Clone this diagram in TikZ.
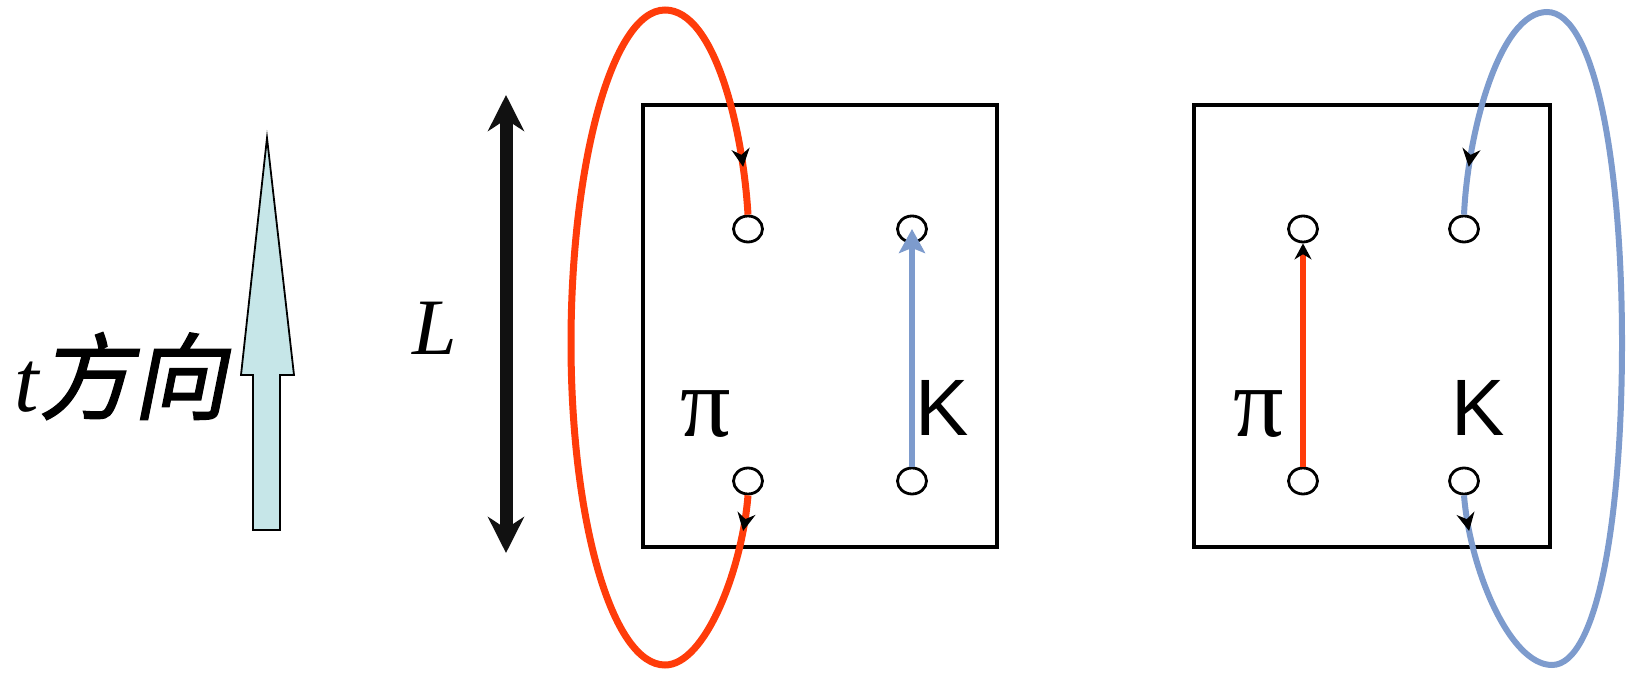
\documentclass[tikz,border=0pt]{standalone}
\usepackage{fontspec}
\setmainfont{Liberation Serif}
\newfontfamily\sansK{Liberation Sans}
\newfontfamily\cjk[FakeSlant=0.2,FakeBold=1.6]{Noto Sans CJK SC}
\usetikzlibrary{arrows.meta,decorations.markings,shapes.geometric}
\definecolor{pired}{RGB}{255,60,10}
\definecolor{kblue}{RGB}{125,155,205}
\definecolor{tcyan}{RGB}{198,230,232}
\definecolor{nearblack}{RGB}{17,17,17}
\begin{document}
\begin{tikzpicture}[x=0.5pt,y=-0.5pt,
  hole/.style={ellipse,draw,line width=1.4pt,minimum width=14.5pt,minimum height=13pt,inner sep=0pt},
  lattice/.style={draw,line width=1.9pt},
  looparrows/.style={postaction={decorate},decoration={markings,
    mark=at position 18pt with {\arrow{Stealth[black,length=9pt,width=9pt]}},
    mark=at position -24pt with {\arrow{Stealth[black,length=9pt,width=9pt]}}}},
  redloop/.style={pired,line width=3.5pt,looparrows},
  blueloop/.style={kblue,line width=3pt,looparrows},
  lab/.style={inner sep=0pt,anchor=base}
]
\useasboundingbox (0,0) rectangle (1628,673);

% time direction arrow
\filldraw[fill=tcyan,draw=black,line width=0.9pt]
  (253,530) -- (280,530) -- (280,375) -- (294,375) -- (267,138) -- (241,375) -- (253,375) -- cycle;
\node[inner sep=0pt,anchor=base west] (tdir) at (14,412)
  {\fontsize{44pt}{44pt}\selectfont\itshape t\cjk\fontsize{47pt}{47pt}\selectfont 方向};

% L arrow
\coordinate (Ltop) at (506,95);
\coordinate (Lbot) at (506,553);
\draw[nearblack,line width=6.5pt,{Stealth[length=18pt,width=18pt]}-{Stealth[length=18pt,width=18pt]}] (Lbot) -- (Ltop);
\node[inner sep=0pt,anchor=base west] (Llab) at (412,355) {\fontsize{40pt}{40pt}\selectfont\itshape L};

% boxes
\draw[lattice] (643,105) rectangle (997,547);
\draw[lattice] (1194,105) rectangle (1550,547);

% holes
\node[hole] (pit1) at (748,229) {};
\node[hole] (pib1) at (748,481) {};
\node[hole] (kt1) at (912,229) {};
\node[hole] (kb1) at (912,481) {};
\node[hole] (pit2) at (1303,229) {};
\node[hole] (pib2) at (1303,481) {};
\node[hole] (kt2) at (1464,229) {};
\node[hole] (kb2) at (1464,481) {};

% labels
\node[lab] (pilab1) at (706,437) {\fontsize{50pt}{50pt}\selectfont π};
\node[lab] (klab1) at (942,436) {\sansK\fontsize{40pt}{40pt}\selectfont K};
\node[lab] (pilab2) at (1259,437) {\fontsize{50pt}{50pt}\selectfont π};
\node[lab] (klab2) at (1478,436) {\sansK\fontsize{40pt}{40pt}\selectfont K};

% straight propagators
\draw[kblue,line width=3pt,-{Stealth[kblue,length=12pt,width=13pt,inset=2.5pt]}] (kb1.north) -- (kt1.center);
\draw[pired,line width=3pt,-{Stealth[black,length=8pt,width=8.5pt]}] (pib2.north) -- (pit2.south);

% wrapping loops
\draw[redloop] (pib1.south) .. controls (742,570) and (705,665) .. (665,665)
  .. controls (612,665) and (571,520) .. (571,343)
  .. controls (571,165) and (612,10) .. (665,10)
  .. controls (715,10) and (743,130) .. (pit1.north);
\draw[blueloop] (kb2.south) .. controls (1470,570) and (1510,665) .. (1552,665)
  .. controls (1597,665) and (1622,520) .. (1622,343)
  .. controls (1622,165) and (1595,12) .. (1547,12)
  .. controls (1500,12) and (1468,130) .. (kt2.north);
\end{tikzpicture}
\end{document}
